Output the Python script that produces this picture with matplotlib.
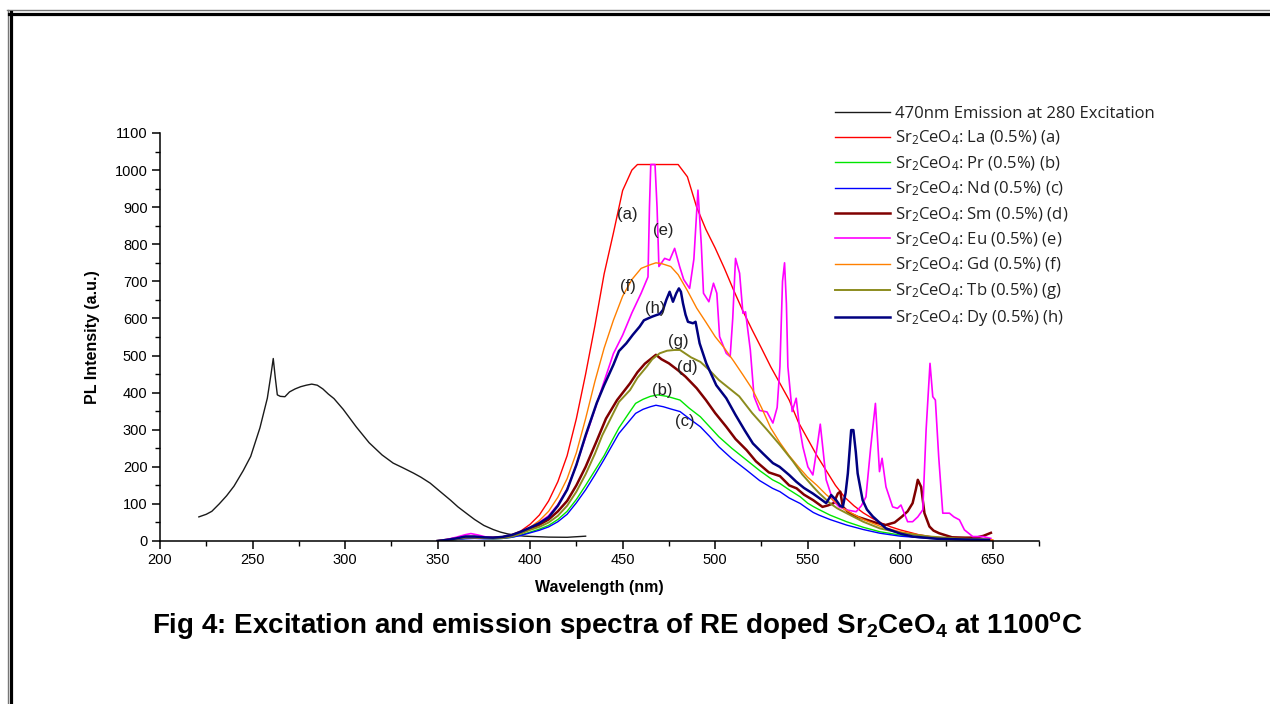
"""
Fig 4: espectros de excitación y emisión de Sr2CeO4 dopado con tierras raras (1100 °C).
Los valores se leyeron a ojo de la figura original, punto a punto.
"""
import matplotlib
matplotlib.use('Agg')
import matplotlib.pyplot as plt
import matplotlib.ticker as mticker
from matplotlib.lines import Line2D

# ─── Datos ───────────────────────────────────────────────────────────────────

# Excitación (emisión a 470 nm, excitando en 280)
exc_wl = [221, 225, 228, 232, 236, 240, 245, 249, 254, 258, 260, 261.2, 262.3, 263.4,
          265, 267.5, 270, 273, 276, 279, 282, 285, 288, 291, 294, 299, 306, 313, 320,
          326, 331, 337, 341, 346, 351, 357, 361, 366, 370, 375, 380, 384, 388, 393,
          397, 402, 410, 420, 430]
exc_int = [65, 72, 80, 100, 122, 148, 190, 228, 305, 385, 450, 492, 440, 394,
           390, 389, 402, 410, 416, 420, 423, 420, 410, 396, 384, 355, 308, 265, 232,
           210, 198, 183, 172, 156, 135, 110, 92, 73, 58, 42, 31, 24, 19, 15,
           13, 12, 10.5, 10, 13]

# (a) La
la_wl = [350, 355, 360, 365, 370, 375, 380, 385, 390, 395, 400, 405, 410, 415, 420, 425,
         430, 435, 440, 445, 450, 455, 458, 470, 480, 485, 490, 495, 500, 505, 510, 515,
         520, 525, 530, 535, 540, 545, 550, 555, 560, 565, 570, 575, 580, 585, 590, 595,
         600, 610, 620, 630, 640, 650]
la_int = [0, 3, 7, 12, 11, 9, 9, 11, 17, 27, 45, 70, 108, 160, 230, 330,
          450, 580, 720, 830, 945, 1000, 1015, 1015, 1015, 982, 900, 840, 790, 735, 676, 620,
          569, 520, 470, 425, 380, 320, 275, 230, 190, 150, 118, 95, 76, 61, 48, 38,
          30, 17, 9, 5, 3, 2]

# (b) Pr
pr_wl = [350, 355, 360, 365, 370, 375, 380, 385, 390, 395, 400, 405, 410, 415, 420, 425,
         430, 435, 440, 444, 448, 453, 457, 461, 465, 469, 474, 481, 486, 492, 497, 502,
         509, 517, 524, 531, 535, 540, 546, 550, 553, 556, 562, 571, 580, 589, 600, 616,
         630, 648]
pr_int = [0, 2, 4, 7, 8, 7, 6, 7, 10, 16, 24, 32, 42, 58, 80, 112,
          150, 190, 230, 268, 305, 342, 371, 382, 390, 394, 390, 380, 358, 335, 308, 281,
          250, 218, 190, 165, 155, 138, 119, 102, 93, 85, 70, 52, 37, 25, 16, 9,
          6, 4]

# (c) Nd
nd_wl = [350, 355, 360, 365, 370, 375, 380, 385, 390, 395, 400, 405, 410, 415, 420, 425,
         430, 435, 440, 444, 448, 453, 457, 461, 465, 468, 472, 476, 481, 486, 492, 497,
         502, 509, 517, 524, 531, 535, 540, 546, 550, 553, 556, 562, 571, 580, 589, 600,
         616, 630, 648]
nd_int = [0, 2, 4, 6, 7, 6, 6, 7, 10, 15, 22, 29, 38, 52, 72, 103,
          138, 178, 220, 255, 290, 320, 344, 355, 362, 366, 362, 356, 349, 330, 308, 282,
          254, 222, 191, 163, 142, 133, 116, 101, 87, 77, 70, 58, 43, 31, 21, 13,
          7, 4, 3]

# (d) Sm
sm_wl = [350, 355, 360, 365, 370, 375, 380, 385, 390, 395, 400, 405, 410, 415, 420, 425,
         430, 436, 441, 447, 454, 458, 462, 465, 468, 471, 475, 480, 484, 490, 495, 500,
         506, 511, 517, 522, 529, 535, 540, 544, 548, 553, 558, 561, 564, 566.3, 567.6, 569,
         572.6, 577, 582, 587, 592, 597, 601, 604, 606.7, 608.5, 609.5, 611.3, 613.1, 615.8,
         618, 621, 628, 635, 641, 645, 649]
sm_int = [0, 3, 7, 11, 11, 9, 9, 10, 15, 23, 33, 44, 58, 80, 108, 150,
          200, 270, 330, 380, 425, 455, 478, 490, 502, 490, 479, 460, 443, 412, 380, 345,
          308, 275, 245, 215, 185, 175, 150, 142, 125, 110, 92, 96, 102, 128, 133, 92,
          75, 65, 57, 49, 43, 50, 66, 80, 102, 140, 165, 146, 75, 39,
          28, 21, 10, 9, 9, 14, 22]

# (e) Eu
eu_wl = [350, 355, 360, 365, 368, 372, 376, 380, 385, 390, 395, 400, 405, 410, 415, 420,
         425, 430, 435, 440, 445, 450, 455, 460, 463.7, 464.5, 465.2, 467.5, 468.6, 469.6,
         472.7, 475.4, 478.1, 480.8, 483, 486.2, 488.5, 490.7, 492.5, 493.7, 496.6, 499.1,
         500.9, 502.4, 506, 508.1, 509.5, 511, 513.2, 515, 516.4, 519, 521, 524, 528, 531.2,
         533.5, 535, 536.4, 537.5, 538.5, 539.3, 541.6, 543.8, 545.5, 547.4, 550.1, 552.8,
         555, 556.8, 558.2, 560, 563.6, 567, 570.8, 576.2, 579, 581.5, 584, 586.6, 588.8,
         590.2, 592.3, 595.9, 598.5, 600.4, 604, 606.7, 609.5, 612.2, 614, 616.1, 617.6,
         619, 620.8, 623, 626.6, 629, 632, 634.7, 639.2, 644.6, 649]
eu_int = [0, 4, 10, 17, 20, 16, 11, 9, 10, 14, 24, 36, 50, 68, 98, 140,
          205, 280, 355, 430, 505, 555, 615, 668, 712, 900, 1015, 1015, 900, 740,
          762, 757, 789, 740, 705, 681, 760, 946, 800, 668, 645, 695,
          668, 551, 506, 497, 600, 762, 722, 614, 618, 515, 390, 352, 348, 318,
          360, 470, 700, 750, 640, 470, 349, 385, 310, 254, 200, 178,
          250, 315, 250, 165, 110, 92, 84, 79, 95, 119, 250, 371, 187,
          223, 146, 92, 88, 97, 52, 52, 65, 84, 300, 479, 389,
          380, 227, 75, 75, 65, 57, 30, 12, 12, 7]

# (f) Gd
gd_wl = [350, 355, 360, 365, 370, 375, 380, 385, 390, 395, 400, 405, 410, 415, 420, 425,
         430, 435, 440, 445, 450, 455, 460, 465, 468, 471, 476, 480, 485, 490, 495, 500,
         505, 510, 515, 520, 525, 530, 535, 540, 545, 550, 555, 560, 565, 570, 580, 590,
         600, 615, 630, 650]
gd_int = [0, 3, 7, 11, 10, 8, 8, 10, 15, 24, 37, 55, 80, 118, 168, 238,
          330, 430, 520, 595, 660, 705, 735, 745, 750, 748, 740, 718, 675, 628, 590, 551,
          520, 485, 448, 410, 360, 305, 265, 230, 200, 172, 150, 125, 105, 85, 58, 38,
          25, 12, 6, 3]

# (g) Tb
tb_wl = [350, 355, 360, 365, 370, 375, 380, 385, 390, 395, 400, 405, 410, 415, 420, 425,
         430, 435, 439, 444, 448, 454, 458, 463, 466, 470, 474, 478, 481, 484, 487, 492,
         497, 502, 508, 513, 520, 528, 535, 542, 547, 553, 556, 562, 566, 571, 580, 589,
         600, 616, 630, 648]
tb_int = [0, 2, 5, 9, 9, 8, 7, 8, 12, 20, 30, 38, 50, 68, 95, 133,
          180, 235, 285, 335, 375, 407, 440, 470, 490, 506, 513, 515, 515, 505, 495, 483,
          460, 434, 410, 390, 345, 300, 259, 215, 180, 146, 130, 102, 88, 75, 52, 34,
          22, 12, 7, 4]

# (h) Dy
dy_wl = [350, 355, 360, 365, 370, 375, 380, 385, 390, 395, 400, 405, 410, 415, 420, 425,
         430, 436, 440, 445, 448, 452, 455.5, 459.2, 461.5, 463.7, 466, 468.2, 470, 471.8,
         473.6, 475.4, 477.2, 479, 480.4, 481.5, 482.6, 484, 485.3, 488, 489.4, 491.6, 495.2,
         500.6, 506, 511, 516, 520.4, 526, 531.2, 534.8, 540, 543.8, 548, 552.8, 557, 560,
         562.7, 565.4, 567.5, 569, 570.5, 571.7, 573.5, 574.7, 576, 577, 579.7, 582, 585.2,
         592.3, 600, 606.7, 620, 635, 648]
dy_int = [0, 3, 7, 12, 12, 10, 9, 11, 16, 25, 36, 48, 64, 95, 138, 205,
          285, 372, 420, 475, 512, 533, 556, 578, 595, 600, 605, 609, 612, 623,
          650, 672, 645, 668, 681, 672, 641, 610, 591, 587, 591, 533, 479,
          420, 385, 340, 298, 263, 235, 210, 200, 178, 160, 143, 128, 113, 102,
          124, 110, 95, 92, 130, 182, 299, 299, 240, 182, 110, 85, 66,
          34, 20, 12, 6, 4, 3]

series = [
    ('470nm Emission at 280 Excitation', exc_wl, exc_int, '#1a1a1a', 1.0),
    ('Sr$_2$CeO$_4$: La (0.5%) (a)', la_wl, la_int, '#ff0000', 1.0),
    ('Sr$_2$CeO$_4$: Pr (0.5%) (b)', pr_wl, pr_int, '#00e600', 1.0),
    ('Sr$_2$CeO$_4$: Nd (0.5%) (c)', nd_wl, nd_int, '#0000ff', 1.0),
    ('Sr$_2$CeO$_4$: Sm (0.5%) (d)', sm_wl, sm_int, '#800000', 1.8),
    ('Sr$_2$CeO$_4$: Eu (0.5%) (e)', eu_wl, eu_int, '#ff00ff', 1.2),
    ('Sr$_2$CeO$_4$: Gd (0.5%) (f)', gd_wl, gd_int, '#ff8000', 1.0),
    ('Sr$_2$CeO$_4$: Tb (0.5%) (g)', tb_wl, tb_int, '#8c8c1e', 1.4),
    ('Sr$_2$CeO$_4$: Dy (0.5%) (h)', dy_wl, dy_int, '#000080', 1.8),
]

# Etiquetas sobre las curvas: (texto, x en nm, y en u.a.)
curve_tags = [('(a)', 452.7, 879), ('(e)', 472.1, 838), ('(f)', 452.7, 685),
              ('(h)', 467.8, 628), ('(g)', 480.3, 539), ('(d)', 485.0, 469),
              ('(b)', 471.6, 407), ('(c)', 483.5, 321)]

# ─── Estilo ──────────────────────────────────────────────────────────────────

plt.rcParams.update({
    'font.family': 'Liberation Sans',
    'mathtext.default': 'regular',
    'axes.linewidth': 1.1,
})

fig = plt.figure(figsize=(12.7, 7.04), dpi=100)
ax = fig.add_axes([160 / 1270, 1 - 541 / 704, 879 / 1270, 408 / 704])

for label, wl, inten, color, lw in series:
    ax.plot(wl, inten, color=color, lw=lw, label=label)

for txt, x, y in curve_tags:
    ax.text(x, y, txt, ha='center', va='center', fontsize=12, color='#222222')

ax.set_xlim(200, 675)
ax.set_ylim(0, 1100)
ax.xaxis.set_major_locator(mticker.MultipleLocator(50))
ax.xaxis.set_minor_locator(mticker.MultipleLocator(25))
ax.yaxis.set_major_locator(mticker.MultipleLocator(100))
ax.yaxis.set_minor_locator(mticker.MultipleLocator(50))
ax.xaxis.set_major_formatter(mticker.FormatStrFormatter('%d'))
ax.tick_params(which='major', direction='out', length=6, width=1.1, labelsize=10.5, pad=3)
ax.tick_params(which='minor', direction='out', length=3.5, width=1.0)
ax.spines['top'].set_visible(False)
ax.spines['right'].set_visible(False)

ax.set_xlabel('Wavelength (nm)', fontsize=11.5, fontweight='bold')
ax.set_ylabel('PL Intensity (a.u.)', fontsize=11.5, fontweight='bold')
ax.xaxis.set_label_coords(0.5, -0.095)
ax.yaxis.set_label_coords(-0.068, 0.5)

# Leyenda estilo Origin, sin marco, fuera del área de datos
fig.legend(loc='upper left', bbox_to_anchor=(835 / 1270, 1 - 106 / 704),
           frameon=False, prop={'family': 'Open Sans', 'size': 12},
           handlelength=3.3, handletextpad=0.3, labelspacing=0.42,
           borderpad=0, borderaxespad=0, labelcolor='#222222')

fig.text(617 / 1270, 1 - 633 / 704,
         'Fig 4: Excitation and emission spectra of RE doped Sr$_2$CeO$_4$ at 1100$^o$C',
         ha='center', va='baseline', fontsize=20, fontweight='bold')

# Marco doble de la página
fig.add_artist(Line2D([7 / 1270, 1], [1 - 9.5 / 704] * 2, color='#777777', lw=1.0))
fig.add_artist(Line2D([7.5 / 1270] * 2, [0, 1 - 9.5 / 704], color='#777777', lw=1.0))
fig.add_artist(Line2D([9 / 1270, 1], [1 - 13.5 / 704] * 2, color='black', lw=2.3))
fig.add_artist(Line2D([10.5 / 1270] * 2, [0, 1 - 12 / 704], color='black', lw=2.3))

fig.savefig('out.png', dpi=100)
